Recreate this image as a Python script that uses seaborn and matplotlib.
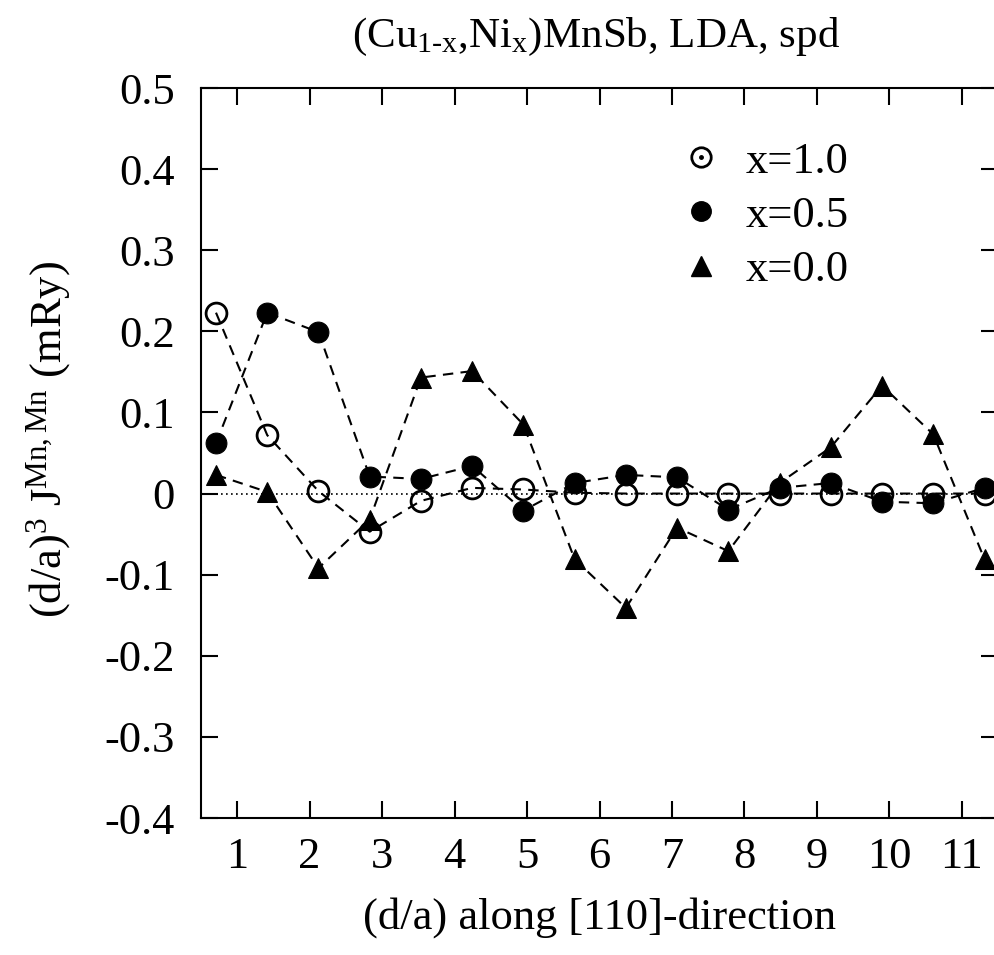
import numpy as np
import pandas as pd
import matplotlib
matplotlib.use("Agg")
import matplotlib.pyplot as plt
from matplotlib.ticker import FuncFormatter, FixedLocator
from matplotlib.lines import Line2D
from matplotlib.legend_handler import HandlerTuple
import seaborn as sns

# ---- data ----
shell = list(range(1, 17))
d_over_a = [n * np.sqrt(2) / 2 for n in shell]
j_x10 = [0.223, 0.072, 0.003, -0.047, -0.009, 0.007, 0.005, 0.001,
         0.000, 0.000, 0.000, 0.000, 0.000, 0.000, 0.000, 0.000]
j_x05 = [0.062, 0.223, 0.199, 0.021, 0.018, 0.034, -0.021, 0.013,
         0.023, 0.020, -0.020, 0.007, 0.013, -0.010, -0.012, 0.007]
j_x00 = [0.023, 0.002, -0.092, -0.032, 0.143, 0.151, 0.085, -0.081,
         -0.141, -0.042, -0.071, 0.013, 0.057, 0.133, 0.073, -0.081]
labels = ["x=1.0", "x=0.5", "x=0.0"]
x_ticks = list(range(1, 12))
y_ticks = [-0.4, -0.3, -0.2, -0.1, 0.0, 0.1, 0.2, 0.3, 0.4, 0.5]

sns.set_theme(style="ticks")
plt.rcParams["font.family"] = ["Liberation Serif", "DejaVu Serif"]
plt.rcParams["mathtext.fontset"] = "custom"
plt.rcParams["mathtext.rm"] = "Liberation Serif"
plt.rcParams["mathtext.it"] = "Liberation Serif:italic"
plt.rcParams["mathtext.bf"] = "Liberation Serif:bold"
for k in ["text.color", "axes.labelcolor", "xtick.color", "ytick.color",
          "axes.edgecolor"]:
    plt.rcParams[k] = "black"
plt.rcParams["xtick.bottom"] = True
plt.rcParams["ytick.left"] = True

fig = plt.figure(figsize=(9.94, 9.55), dpi=100)
ax = fig.add_axes([201 / 994, 1 - 818 / 955, 797 / 994, 730 / 955])

ax.axhline(0, color="black", lw=1.2, ls=(0, (1, 2)), zorder=1)

df = pd.DataFrame({"d": d_over_a, "x10": j_x10, "x05": j_x05, "x00": j_x00})
common = dict(color="black", lw=1.5, dashes=False, zorder=3)
dash = (0, (5, 3.5))
sns.lineplot(data=df, x="d", y="x10", ax=ax, marker="o", markersize=15,
             markerfacecolor="none", markeredgecolor="black", markeredgewidth=2,
             linestyle=dash, **common)
sns.lineplot(data=df, x="d", y="x05", ax=ax, marker="o", markersize=15,
             markerfacecolor="black", markeredgecolor="black",
             linestyle=dash, **common)
sns.lineplot(data=df, x="d", y="x00", ax=ax, marker="^", markersize=15,
             markerfacecolor="black", markeredgecolor="black",
             linestyle=dash, **common)

ax.set_xlim(0.5, 11.5)
ax.set_ylim(-0.4, 0.5)
ax.xaxis.set_major_locator(FixedLocator(x_ticks))
ax.yaxis.set_major_locator(FixedLocator(y_ticks))

def yfmt(v, pos):
    if abs(v) < 1e-9:
        return "0"
    return ("%.1f" % v)
ax.yaxis.set_major_formatter(FuncFormatter(yfmt))
ax.xaxis.set_major_formatter(FuncFormatter(lambda v, p: "%d" % v))

ax.tick_params(axis="both", which="major", direction="in", length=12, width=1.5,
               top=True, right=True, bottom=True, left=True,
               labelsize=32, colors="black")
ax.tick_params(axis="x", pad=14)
ax.tick_params(axis="y", pad=19)
for s in ax.spines.values():
    s.set_linewidth(1.5)
    s.set_color("black")
    s.set_visible(True)

ax.set_xlabel("(d/a) along [110]-direction", fontsize=32, labelpad=14)
ax.set_ylabel(r"(d/a)$^{3}$ J$^{\rm Mn,Mn}$ (mRy)", fontsize=32)
ax.yaxis.set_label_coords(-0.16, 0.519)
fig.text(596 / 994, 1 - 37 / 955, r"(Cu$_{\rm 1\text{-}x}$,Ni$_{\rm x}$)MnSb, LDA, spd",
         fontsize=31, ha="center", va="center")

# legend
h_open = (Line2D([], [], marker="o", ls="none", markersize=14, mfc="none",
                 mec="black", mew=2),
          Line2D([], [], marker="o", ls="none", markersize=2.5, mfc="black",
                 mec="black"))
h_fill = Line2D([], [], marker="o", ls="none", markersize=14, mfc="black", mec="black")
h_tri = Line2D([], [], marker="^", ls="none", markersize=15, mfc="black", mec="black")
ax.legend([h_open, h_fill, h_tri], labels,
          handler_map={tuple: HandlerTuple(ndivide=1, pad=0)},
          loc="upper left", bbox_to_anchor=(0.577, 0.951), frameon=False,
          fontsize=32, handlelength=1.0, handletextpad=0.5, labelspacing=0.32,
          borderaxespad=0)

fig.savefig("out.png", dpi=100)
